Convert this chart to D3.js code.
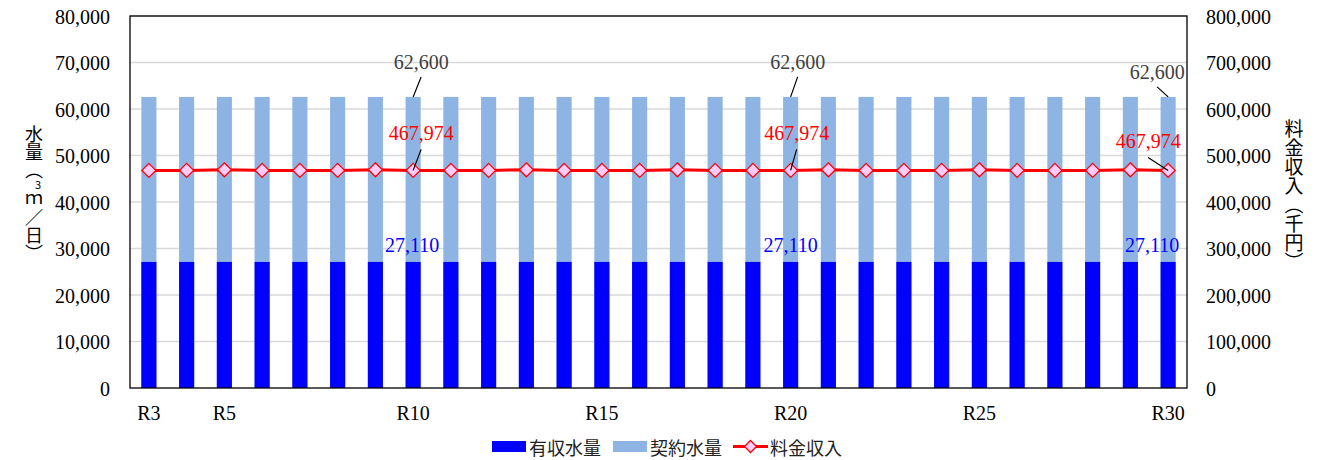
<!DOCTYPE html>
<html>
<head>
<meta charset="utf-8">
<script src="https://cdn.jsdelivr.net/npm/d3@7"></script>
<style>
  body { margin: 0; background: #fff; }
  svg { display: block; }
  .vt { writing-mode: vertical-rl; text-orientation: upright; }
</style>
</head>
<body>
<svg id="chart" width="1339" height="460"></svg>
<script>
// fiscal years (Reiwa)
var years = ["R3","R4","R5","R6","R7","R8","R9","R10","R11","R12","R13","R14","R15","R16",
             "R17","R18","R19","R20","R21","R22","R23","R24","R25","R26","R27","R28","R29","R30"];
var shownYears = ["R3","R5","R10","R15","R20","R25","R30"];

// 契約水量 (m3/day)
var contract = [62600,62600,62600,62600,62600,62600,62600,62600,62600,62600,62600,62600,62600,62600,
                62600,62600,62600,62600,62600,62600,62600,62600,62600,62600,62600,62600,62600,62600];
// 有収水量 (m3/day)
var billed = [27110,27110,27110,27110,27110,27110,27110,27110,27110,27110,27110,27110,27110,27110,
              27110,27110,27110,27110,27110,27110,27110,27110,27110,27110,27110,27110,27110,27110];
// 料金収入 (千円)
var fee = [467974,467974,469256,467974,467974,467974,469256,467974,467974,467974,469256,467974,467974,467974,
           469256,467974,467974,467974,469256,467974,467974,467974,469256,467974,467974,467974,469256,467974];

var leftTicks = [0,10000,20000,30000,40000,50000,60000,70000,80000];
var rightTicks = [0,100000,200000,300000,400000,500000,600000,700000,800000];

// which points get value labels, with label offsets
var labelAt = [
  {i: 7,  cdx: 8,  cdy: -28, fdx: 8,  fdy: -30, bdx: -1},
  {i: 17, cdx: 7,  cdy: -28, fdx: 6,  fdy: -30, bdx: 0},
  {i: 27, cdx: -11, cdy: -18, fdx: -20, fdy: -22, bdx: -16}
];

var svg = d3.select("#chart");
var m = {l: 130, r: 1187, t: 16, b: 388};
var serif = "'Liberation Serif','Times New Roman',serif";
var sans = "'Noto Sans CJK JP','Noto Sans',sans-serif";

var x = d3.scaleBand().domain(years).range([m.l, m.r]).paddingInner(0.6).paddingOuter(0.3);
var yL = d3.scaleLinear().domain([0, 80000]).range([m.b, m.t]);
var yR = d3.scaleLinear().domain([0, 800000]).range([m.b, m.t]);
var fmt = d3.format(",");

// gridlines
svg.append("g").selectAll("line").data(leftTicks.slice(1)).enter().append("line")
  .attr("x1", m.l).attr("x2", m.r)
  .attr("y1", function(d){ return yL(d); }).attr("y2", function(d){ return yL(d); })
  .attr("stroke", "#d9d9d9").attr("stroke-width", 1.3);

// contract bars (behind)
svg.append("g").selectAll("rect").data(contract).enter().append("rect")
  .attr("x", function(d, i){ return x(years[i]); })
  .attr("width", x.bandwidth())
  .attr("y", function(d){ return yL(d); })
  .attr("height", function(d){ return yL(0) - yL(d); })
  .attr("fill", "#8eb4e3");

// billed bars (front)
svg.append("g").selectAll("rect").data(billed).enter().append("rect")
  .attr("x", function(d, i){ return x(years[i]); })
  .attr("width", x.bandwidth())
  .attr("y", function(d){ return yL(d); })
  .attr("height", function(d){ return yL(0) - yL(d); })
  .attr("fill", "#0000ff");

// plot frame
svg.append("rect").attr("x", m.l).attr("y", m.t)
  .attr("width", m.r - m.l).attr("height", m.b - m.t)
  .attr("fill", "none").attr("stroke", "#000").attr("stroke-width", 1.3);

// fee line
var cx = function(i){ return x(years[i]) + x.bandwidth() / 2; };
var line = d3.line().x(function(d, i){ return cx(i); }).y(function(d){ return yR(d); });
svg.append("path").datum(fee).attr("d", line)
  .attr("fill", "none").attr("stroke", "#ff0000").attr("stroke-width", 3);

var diamond = function(px, py, r){
  return "M" + px + "," + (py - r) + "L" + (px + r) + "," + py + "L" + px + "," + (py + r) + "L" + (px - r) + "," + py + "Z";
};
svg.append("g").selectAll("path").data(fee).enter().append("path")
  .attr("d", function(d, i){ return diamond(cx(i), yR(d), 7); })
  .attr("fill", "#ffccff").attr("stroke", "#ff0000").attr("stroke-width", 1.3);

// axes
var axL = svg.append("g").attr("transform", "translate(" + (m.l - 20) + ",0)")
  .call(d3.axisLeft(yL).tickValues(leftTicks).tickFormat(fmt).tickSize(0));
var axR = svg.append("g").attr("transform", "translate(" + (m.r + 19) + ",0)")
  .call(d3.axisRight(yR).tickValues(rightTicks).tickFormat(fmt).tickSize(0));
var axB = svg.append("g").attr("transform", "translate(0," + (m.b + 18) + ")")
  .call(d3.axisBottom(x).tickValues(shownYears).tickSize(0));
[axL, axR, axB].forEach(function(a){
  a.select(".domain").remove();
  a.attr("font-family", null).attr("font-size", null);
  a.selectAll("text").attr("font-family", serif).attr("font-size", 20).attr("fill", "#000");
});
axL.selectAll("text").attr("dy", "0.35em").attr("x", 0);
axR.selectAll("text").attr("dy", "0.35em").attr("x", 0);
axB.selectAll("text").attr("dy", "0.7em").attr("y", 0);

// value labels with leader lines
labelAt.forEach(function(a){
  var px = cx(a.i);
  // contract
  var ty = yL(contract[a.i]);
  svg.append("text").attr("x", px + a.cdx).attr("y", ty + a.cdy)
    .attr("text-anchor", "middle").attr("font-family", serif).attr("font-size", 20)
    .attr("fill", "#404040").text(fmt(contract[a.i]));
  svg.append("line").attr("x1", px + a.cdx).attr("y1", ty + a.cdy + 8)
    .attr("x2", px).attr("y2", ty).attr("stroke", "#000").attr("stroke-width", 1.2);
  // fee
  var fy = yR(fee[a.i]);
  svg.append("text").attr("x", px + a.fdx).attr("y", fy + a.fdy)
    .attr("text-anchor", "middle").attr("font-family", serif).attr("font-size", 20)
    .attr("fill", "#ff0000").text(fmt(fee[a.i]));
  svg.append("line").attr("x1", px + a.fdx).attr("y1", fy + a.fdy + 9)
    .attr("x2", px).attr("y2", fy).attr("stroke", "#000").attr("stroke-width", 1.2);
  // billed
  svg.append("text").attr("x", px + a.bdx).attr("y", yL(billed[a.i]) - 10)
    .attr("text-anchor", "middle").attr("font-family", serif).attr("font-size", 20)
    .attr("fill", "#0000ff").text(fmt(billed[a.i]));
});

// vertical axis titles
var tL = svg.append("text").attr("class", "vt").attr("x", 34).attr("y", 125)
  .attr("font-family", sans).attr("font-size", 18).attr("fill", "#000");
tL.append("tspan").text("水量（");
tL.append("tspan").attr("font-size", 11).attr("baseline-shift", 4).text("3");
tL.append("tspan").text("ｍ／日）");

svg.append("text").attr("class", "vt").attr("x", 1294).attr("y", 119)
  .attr("font-family", sans).attr("font-size", 19).attr("fill", "#000")
  .text("料金収入（千円）");

// legend
var lg = svg.append("g").attr("font-family", sans).attr("font-size", 18).attr("fill", "#222");
var legendItems = [
  {name: "有収水量", x: 492, kind: "bar", color: "#0000ff"},
  {name: "契約水量", x: 613, kind: "bar", color: "#8eb4e3"},
  {name: "料金収入", x: 733, kind: "line", color: "#ff0000"}
];
legendItems.forEach(function(d){
  if (d.kind === "bar") {
    lg.append("rect").attr("x", d.x).attr("y", 441).attr("width", 34).attr("height", 11).attr("fill", d.color);
  } else {
    lg.append("line").attr("x1", d.x).attr("x2", d.x + 35).attr("y1", 446.5).attr("y2", 446.5)
      .attr("stroke", d.color).attr("stroke-width", 3);
    lg.append("path").attr("d", diamond(d.x + 17.5, 446.5, 6))
      .attr("fill", "#ffccff").attr("stroke", "#ff0000").attr("stroke-width", 1.3);
  }
  lg.append("text").attr("x", d.x + 37).attr("y", 446.5).attr("dominant-baseline", "central").text(d.name);
});
</script>
</body>
</html>
